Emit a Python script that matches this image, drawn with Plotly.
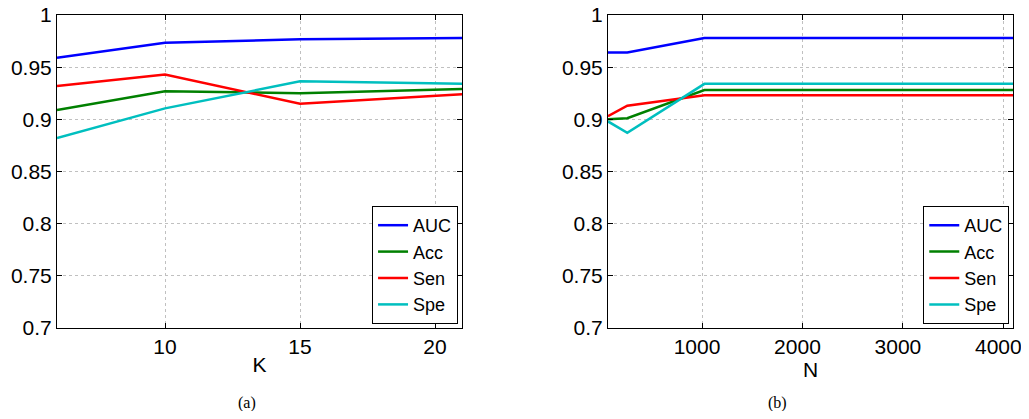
import plotly.graph_objects as go
from plotly.subplots import make_subplots

K = [6, 10, 15, 21]
auc_k = [0.959, 0.9735, 0.9767, 0.978]
acc_k = [0.909, 0.927, 0.925, 0.929]
sen_k = [0.932, 0.943, 0.915, 0.924]
spe_k = [0.882, 0.9105, 0.9364, 0.934]

N = [64, 256, 1024, 4096]
auc_n = [0.964, 0.964, 0.978, 0.978]
acc_n = [0.900, 0.901, 0.928, 0.928]
sen_n = [0.903, 0.913, 0.923, 0.923]
spe_n = [0.898, 0.887, 0.934, 0.934]

names = ["AUC", "Acc", "Sen", "Spe"]
colors = ["#0000ff", "#008000", "#ff0000", "#00bfbf"]
y_ticks = [0.7, 0.75, 0.8, 0.85, 0.9, 0.95, 1]
y_labels = ["0.7", "0.75", "0.8", "0.85", "0.9", "0.95", "1"]

FONT = "Liberation Sans"
FS = 21

fig = make_subplots(rows=1, cols=2, horizontal_spacing=0.1527)

for name, col, ys in zip(names, colors, [auc_k, acc_k, sen_k, spe_k]):
    fig.add_trace(go.Scatter(x=K, y=ys, mode="lines", name=name,
                             line=dict(color=col, width=2.5), legend="legend"), row=1, col=1)
for name, col, ys in zip(names, colors, [auc_n, acc_n, sen_n, spe_n]):
    fig.add_trace(go.Scatter(x=N, y=ys, mode="lines", name=name,
                             line=dict(color=col, width=2.5), legend="legend2"), row=1, col=2)

axis_common = dict(showline=True, linecolor="black", linewidth=1, mirror="ticks",
                   ticks="inside", ticklen=5, tickcolor="black", automargin=False,
                   ticklabeloverflow="allow",
                   showgrid=True, gridcolor="#c0c0c0", griddash="dot", gridwidth=1,
                   zeroline=False, tickfont=dict(family=FONT, size=FS, color="black"))

fig.update_xaxes(**axis_common)
fig.update_yaxes(**axis_common)
fig.update_xaxes(range=[6, 21], tickvals=[10, 15, 20], title=dict(text="K", standoff=0,
                 font=dict(family=FONT, size=FS, color="black")), row=1, col=1)
fig.update_xaxes(range=[64, 4096], tickvals=[1000, 2000, 3000, 4000], ticklabelshift=-5,
                 title=dict(text="N", standoff=0,
                 font=dict(family=FONT, size=FS, color="black")), row=1, col=2)
fig.update_yaxes(range=[0.7, 1.0], tickvals=y_ticks, ticktext=y_labels)

legend_common = dict(bgcolor="white", bordercolor="black", borderwidth=1,
                     font=dict(family=FONT, size=18, color="black"),
                     xanchor="right", yanchor="bottom", tracegroupgap=0, itemwidth=30)
fig.update_layout(
    legend=dict(x=0.4195, y=0.0128, **legend_common),
    legend2=dict(x=0.9961, y=0.0128, **legend_common),
)

fig.update_layout(
    width=1021, height=403,
    margin=dict(l=49, r=16, t=7, b=83, autoexpand=False),
    plot_bgcolor="white", paper_bgcolor="white",
    showlegend=True,
    annotations=[
        dict(text="(a)", x=0.1872, y=-0.2396, xref="paper", yref="paper", showarrow=False,
             yanchor="middle", font=dict(family="Liberation Serif", size=16, color="black")),
        dict(text="(b)", x=0.7657, y=-0.2396, xref="paper", yref="paper", showarrow=False,
             yanchor="middle", font=dict(family="Liberation Serif", size=16, color="black")),
    ],
)

fig.write_html("out.html")
